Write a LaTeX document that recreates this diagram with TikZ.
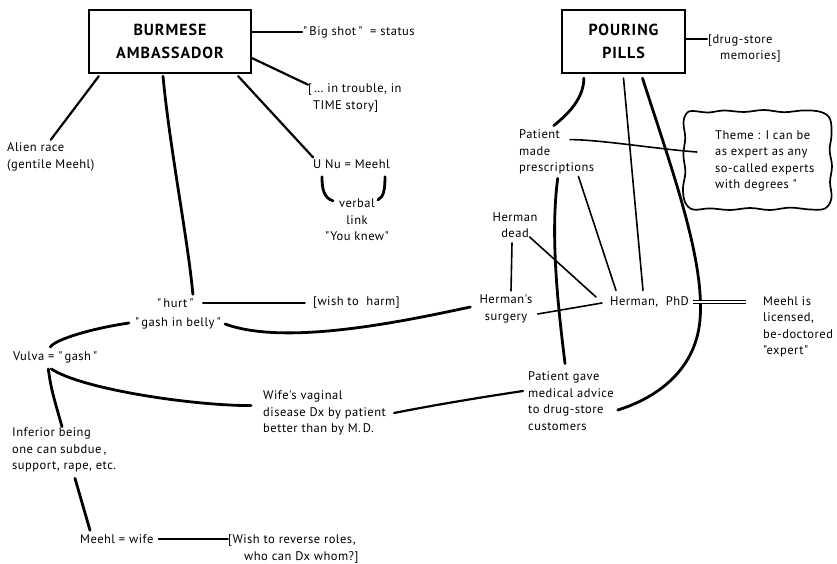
\documentclass[tikz,border=0pt]{standalone}
\usepackage{fontspec}
\setmainfont{PT Sans}[LetterSpace=4, Ligatures=TeXOff]
\newfontfamily\titlefont{PT Sans}[LetterSpace=6]
\usetikzlibrary{calc}
\begin{document}
\begin{tikzpicture}[x=1pt,y=-1pt,
  txt/.style={inner sep=0pt, align=left, font=\fontsize{12.5}{16.5}\selectfont},
  ctxt/.style={txt, align=center},
  ttl/.style={draw, line width=2.4pt, inner sep=0pt, align=center, font=\titlefont\bfseries\fontsize{16}{23}\selectfont},
  lnk/.style={line width=2.8pt, line cap=round},
  lnm/.style={line width=2.2pt, line cap=round},
  lnt/.style={line width=1.6pt, line cap=round},
  cloudarea/.style={inner sep=0pt, minimum width=149pt, minimum height=100pt},
  cloudline/.style={line width=1.7pt, line join=round}]
\useasboundingbox (0,0) rectangle (837,564);

% nodes
\node[ttl, minimum width=162pt, minimum height=63pt] (bur) at (170,41.5) {BURMESE\\AMBASSADOR};
\node[ttl, minimum width=123pt, minimum height=63pt] (pp) at (623.5,41.5) {POURING\\PILLS};
\node[txt, anchor=west] (big) at (303,32) {"\,Big shot\,"\ \ = status};
\node[txt, anchor=west] (trouble) at (308,98) {[\,\dots\ in trouble, in\\\hspace*{5pt}TIME story]};
\node[txt, anchor=west] (alien) at (7,157) {Alien race\\(gentile Meehl)};
\node[txt, anchor=west] (unu) at (313,164) {U Nu = Meehl};
\node[ctxt] (verbal) at (357,220) {verbal\\link\\"You knew"};
\node[txt, anchor=west] (hurt) at (157,303) {"\,hurt\,"};
\node[txt, anchor=west] (wish) at (313,303) {[wish to\ \ harm]};
\node[txt, anchor=west] (gash) at (135,323) {"\,gash in belly\,"};
\node[txt, anchor=west] (vulva) at (13,357) {Vulva = "\,gash\,"};
\node[txt, anchor=west] (inf) at (12,450) {Inferior being\\one can subdue\,,\\support, rape, etc.};
\node[txt, anchor=west] (mw) at (80,539) {Meehl = wife};
\node[txt, anchor=west] (rev) at (228,549) {[Wish to reverse roles,\\\hspace*{16pt}who can Dx whom?]};
\node[txt, anchor=west] (wife) at (263,413) {Wife's vaginal\\disease Dx by patient\\better than by M.\,D.};
\node[txt, anchor=west] (pgave) at (528,401) {Patient gave\\medical advice\\to drug-store\\customers};
\node[txt, anchor=west] (pmp) at (519,152) {Patient\\made\\prescriptions};
\node[ctxt] (hdead) at (515,225) {Herman\\dead};
\node[ctxt] (hsurg) at (506,309) {Herman's\\surgery};
\node[txt, anchor=west] (hphd) at (610,302) {Herman,\ \ PhD};
\node[txt, anchor=west] (lic) at (763,327) {Meehl is\\licensed,\\be-doctored\\"expert"};
\node[cloudarea] (cloud) at (757.5,160) {};
\node[txt, anchor=west] (theme) at (715,161) {Theme : I can be\\as expert as any\\so-called experts\\with degrees "};
\node[txt, anchor=west] (drug) at (708,48.5) {[drug-store\\\hspace*{12pt}memories]};

% hand-drawn cloud outline round the theme
\draw[cloudline] plot[smooth cycle, tension=0.6] coordinates {
  (692,111) (708,112.5) (724,110.5) (744,112) (764,110) (784,112.2) (804,110.4) (821,112)
  (830,119) (831.5,135) (829.6,150) (832,166) (830,182) (831.5,198)
  (825,208.5) (810,209.5) (790,207.6) (770,210) (750,208) (730,210) (710,208.4) (693,209.5)
  (685,202) (683,188) (685.4,172) (683.4,155) (685.2,138) (683.5,123) (686,114)};

% connectors, left part
\draw[lnm] (bur.east |- big) -- ($(big.west)+(-1,0)$);
\draw[lnm] ($(bur.south east)+(0,-16)$) -- ($(trouble.north west)+(0,1)$);
\draw[lnm] ($(bur.south west)+(11,2)$) -- ($(alien.north)+(0,-3)$);
\draw[lnk] ($(bur.south)+(-7,2)$) .. controls (170,150) and (188,240) .. ($(hurt.north east)+(-1,-4)$);
\draw[lnm] ($(bur.south east)+(-14,2)$) -- ($(unu.north west)+(0,-2)$);
\draw[lnk] ($(unu.south west)+(9,8)$) .. controls +(0,13) and +(-9,-3) .. ($(verbal.north)+(-24,2)$);
\draw[lnk] ($(unu.south east)+(-5,8)$) .. controls +(0,12) and +(6,-3) .. ($(verbal.north)+(21,1)$);
\draw[lnt] ($(hurt.east)+(9,0)$) -- ($(wish.west)+(-8,0)$);
\draw[lnk] ($(gash.west)+(-6,0)$) .. controls +(-35,5) and +(5,-8) .. ($(vulva.north)+(-5,-4)$);
\draw[lnk] ($(gash.east)+(4,1)$) .. controls +(60,22) and +(-70,15) .. ($(hsurg.west)+(-9,-2)$);
\draw[lnk] ($(vulva.south)+(-4,6)$) .. controls +(30,20) and +(-60,0) .. ($(wife.north west)+(-12,15)$);
\draw[lnk] ($(vulva.south)+(-7,6)$) .. controls +(3,20) .. ($(inf.north west)+(50,-1)$);
\draw[lnk] ($(inf.south west)+(63,6)$) -- ($(mw.north west)+(10,-4)$);
\draw[lnt] ($(mw.east)+(5,0)$) -- (rev.west |- mw);
\draw[lnm] ($(wife.east)+(8,0)$) .. controls +(40,-8) and +(-40,6) .. ($(pgave.west)+(-5,-10)$);

% connectors, right part
\draw[lnk] ($(pp.south west)+(23,4)$) .. controls +(0,20) and +(15,-12) .. ($(pmp.north)+(-3,-4)$);
\draw[lnt] ($(pp.south)+(0,4)$) -- ($(hphd.north west)+(33,-6)$);
\draw[lnk] ($(pp.south)+(19,4)$) .. controls (672,170) and (705,260) .. (700,320) .. controls (695,375) and (650,400) .. ($(pgave.east)+(4,9)$);
\draw[lnk] ($(pmp.south)+(1,4)$) .. controls +(-8,60) and +(-6,-50) .. ($(pgave.north west)+(37,-8)$);
\draw[lnt] ($(pmp.south east)+(-16,2)$) -- ($(hphd.north west)+(6,-6)$);
\draw[lnt] ($(pmp.north west)+(51,10)$) .. controls +(30,0) and +(-40,-3) .. ($(cloud.west)+(14,-8)$);
\draw[lnt] ($(hdead.south)+(-3,5)$) -- ($(hsurg.north)+(5,-4)$);
\draw[lnt] ($(hdead.south east)+(-8,-1)$) -- ($(hphd.west)+(-14,-5)$);
\draw[lnt] ($(hsurg.east)+(5,5)$) -- ($(hphd.west)+(-8,1)$);
\draw[double, double distance=2.4pt, line width=1pt] ($(hphd.east)+(4,0)$) -- ($(lic.west |- hphd.east)+(-17,0)$);
\coordinate (drugin) at ($(drug.west)+(-1,-9.5)$);
\draw[lnm] (pp.east |- drugin) -- (drugin);
\end{tikzpicture}
\end{document}
